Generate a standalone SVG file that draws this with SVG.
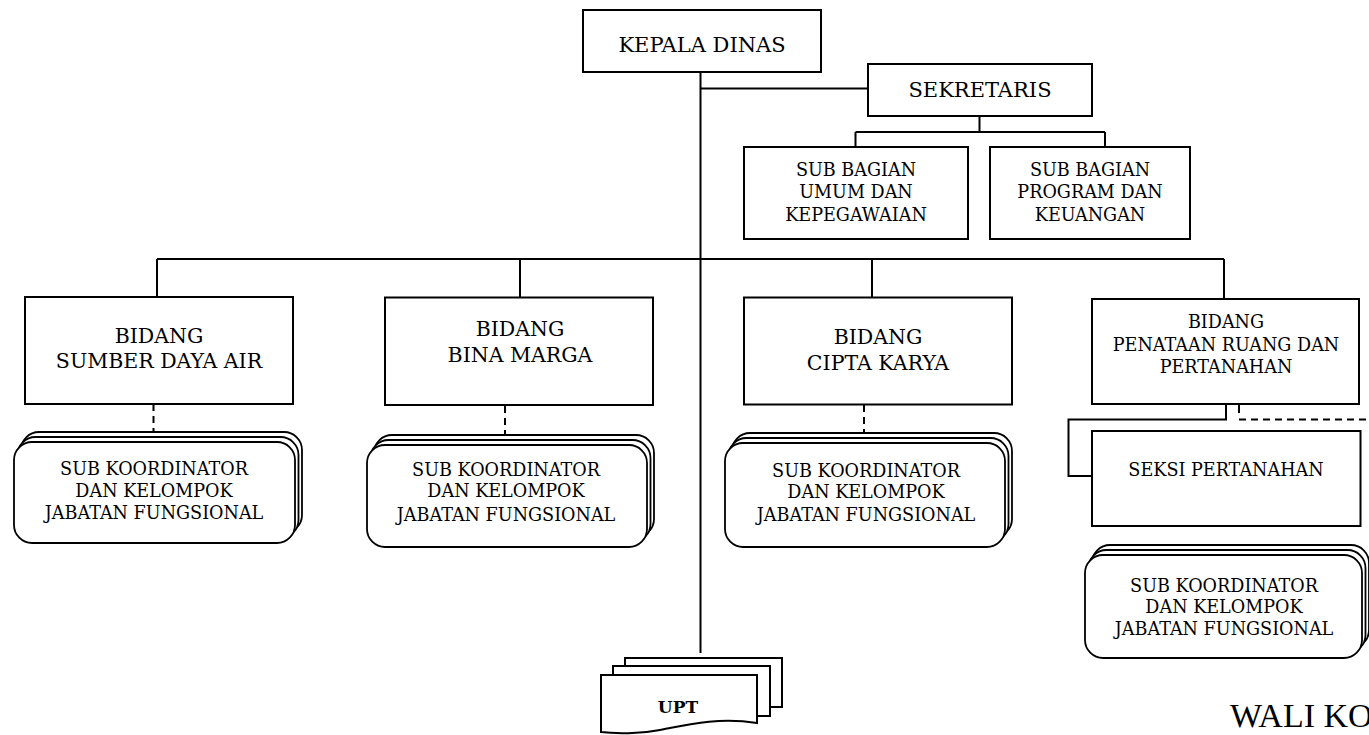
<svg xmlns="http://www.w3.org/2000/svg" width="1369" height="735" viewBox="0 0 1369 735">
<style>
.box{fill:#fff;stroke:#000;stroke-width:2}
.rb{fill:#fff;stroke:#000;stroke-width:1.8}
.ln{fill:none;stroke:#000;stroke-width:2}
.dash{fill:none;stroke:#000;stroke-width:2;stroke-dasharray:7 5}
text{font-family:"DejaVu Serif","Liberation Serif",serif;fill:#000;text-anchor:middle}
.t21{font-size:21px}
.t20{font-size:20.5px}
.t18{font-size:17.6px}
.upt{font-size:17px;font-weight:bold}
.wali{font-family:"Liberation Serif",serif;font-size:34px;text-anchor:start}
</style>
<g id="connectors">
<path class="ln" d="M700.5 72V653"/>
<path class="ln" d="M700.5 88.5H868"/>
<path class="ln" d="M979.5 116V132M855.5 132H1105M855.5 132V147M1105 132V147"/>
<path class="ln" d="M157 259H1224M157 259V297M520 259V297M872 259V297M1224 259V299"/>
<path class="dash" d="M153.5 404V432"/>
<path class="dash" d="M505 406V436"/>
<path class="dash" d="M864 405V434"/>
<path class="ln" d="M1226 404V419.5H1068.5V476H1092"/>
<path class="ln" d="M1239 404V413"/>
<path class="dash" d="M1239 419.5H1369"/>
</g>
<g id="kepala-dinas">
<rect class="box" x="583" y="10" width="238" height="62"/>
<text class="t21" x="702" y="52">KEPALA DINAS</text>
</g>
<g id="sekretaris">
<rect class="box" x="868" y="64" width="224" height="52"/>
<text class="t21" x="980" y="97">SEKRETARIS</text>
</g>
<g id="subbag-umum">
<rect class="box" x="744" y="147" width="224" height="92"/>
<text class="t18" x="856" y="175.5">SUB BAGIAN</text>
<text class="t18" x="856" y="198">UMUM DAN</text>
<text class="t18" x="856" y="220.5">KEPEGAWAIAN</text>
</g>
<g id="subbag-program">
<rect class="box" x="990" y="147" width="200" height="92"/>
<text class="t18" x="1090" y="175.5">SUB BAGIAN</text>
<text class="t18" x="1090" y="198">PROGRAM DAN</text>
<text class="t18" x="1090" y="220.5">KEUANGAN</text>
</g>
<g id="bidang-sda">
<rect class="box" x="25" y="297" width="268" height="107"/>
<text class="t20" x="159" y="343">BIDANG</text>
<text class="t20" x="159" y="368">SUMBER DAYA AIR</text>
</g>
<g id="bidang-bina-marga">
<rect class="box" x="385" y="297.5" width="268" height="107.5"/>
<text class="t20" x="520" y="336">BIDANG</text>
<text class="t20" x="520" y="362">BINA MARGA</text>
</g>
<g id="bidang-cipta-karya">
<rect class="box" x="744" y="297.5" width="268" height="107"/>
<text class="t20" x="878" y="344">BIDANG</text>
<text class="t20" x="878" y="370">CIPTA KARYA</text>
</g>
<g id="bidang-penataan">
<rect class="box" x="1092" y="299" width="267" height="105"/>
<text class="t18" x="1226" y="328">BIDANG</text>
<text class="t18" x="1226" y="350.5">PENATAAN RUANG DAN</text>
<text class="t18" x="1226" y="373">PERTANAHAN</text>
</g>
<g id="seksi-pertanahan">
<rect class="box" x="1092" y="431" width="268.5" height="95"/>
<text class="t18" x="1226" y="476">SEKSI PERTANAHAN</text>
</g>
<g id="subkoor-sda">
<rect class="rb" x="21" y="432" width="281" height="101" rx="18"/>
<rect class="rb" x="17.5" y="437" width="281" height="101" rx="18"/>
<rect class="rb" x="14" y="442" width="281" height="101" rx="18"/>
<text class="t18" x="154" y="474.5">SUB KOORDINATOR</text>
<text class="t18" x="154" y="496.5">DAN KELOMPOK</text>
<text class="t18" x="154" y="519">JABATAN FUNGSIONAL</text>
</g>
<g id="subkoor-bina-marga">
<rect class="rb" x="374" y="435" width="280" height="102" rx="18"/>
<rect class="rb" x="370.5" y="440" width="280" height="102" rx="18"/>
<rect class="rb" x="367" y="445" width="280" height="102" rx="18"/>
<text class="t18" x="506" y="476">SUB KOORDINATOR</text>
<text class="t18" x="506" y="497">DAN KELOMPOK</text>
<text class="t18" x="506" y="520.5">JABATAN FUNGSIONAL</text>
</g>
<g id="subkoor-cipta-karya">
<rect class="rb" x="732" y="433" width="280" height="104" rx="18"/>
<rect class="rb" x="728.5" y="438" width="280" height="104" rx="18"/>
<rect class="rb" x="725" y="443" width="280" height="104" rx="18"/>
<text class="t18" x="866" y="476.5">SUB KOORDINATOR</text>
<text class="t18" x="866" y="497.5">DAN KELOMPOK</text>
<text class="t18" x="866" y="520.5">JABATAN FUNGSIONAL</text>
</g>
<g id="subkoor-penataan">
<rect class="rb" x="1092" y="545" width="277" height="103" rx="18"/>
<rect class="rb" x="1088.5" y="550" width="277" height="103" rx="18"/>
<rect class="rb" x="1085" y="555" width="277" height="103" rx="18"/>
<text class="t18" x="1224" y="591.5">SUB KOORDINATOR</text>
<text class="t18" x="1224" y="612.5">DAN KELOMPOK</text>
<text class="t18" x="1224" y="634.5">JABATAN FUNGSIONAL</text>
</g>
<g id="upt">
<rect class="box" x="625" y="658" width="157" height="49"/>
<rect class="box" x="613" y="666" width="157" height="50"/>
<path class="box" d="M601 675H757V723C720 717 690 724 660 730C635 735 615 733 601 732Z"/>
<text class="upt" x="678" y="712.5">UPT</text>
</g>
<text class="wali" x="1230" y="727">WALI KO</text>
</svg>
